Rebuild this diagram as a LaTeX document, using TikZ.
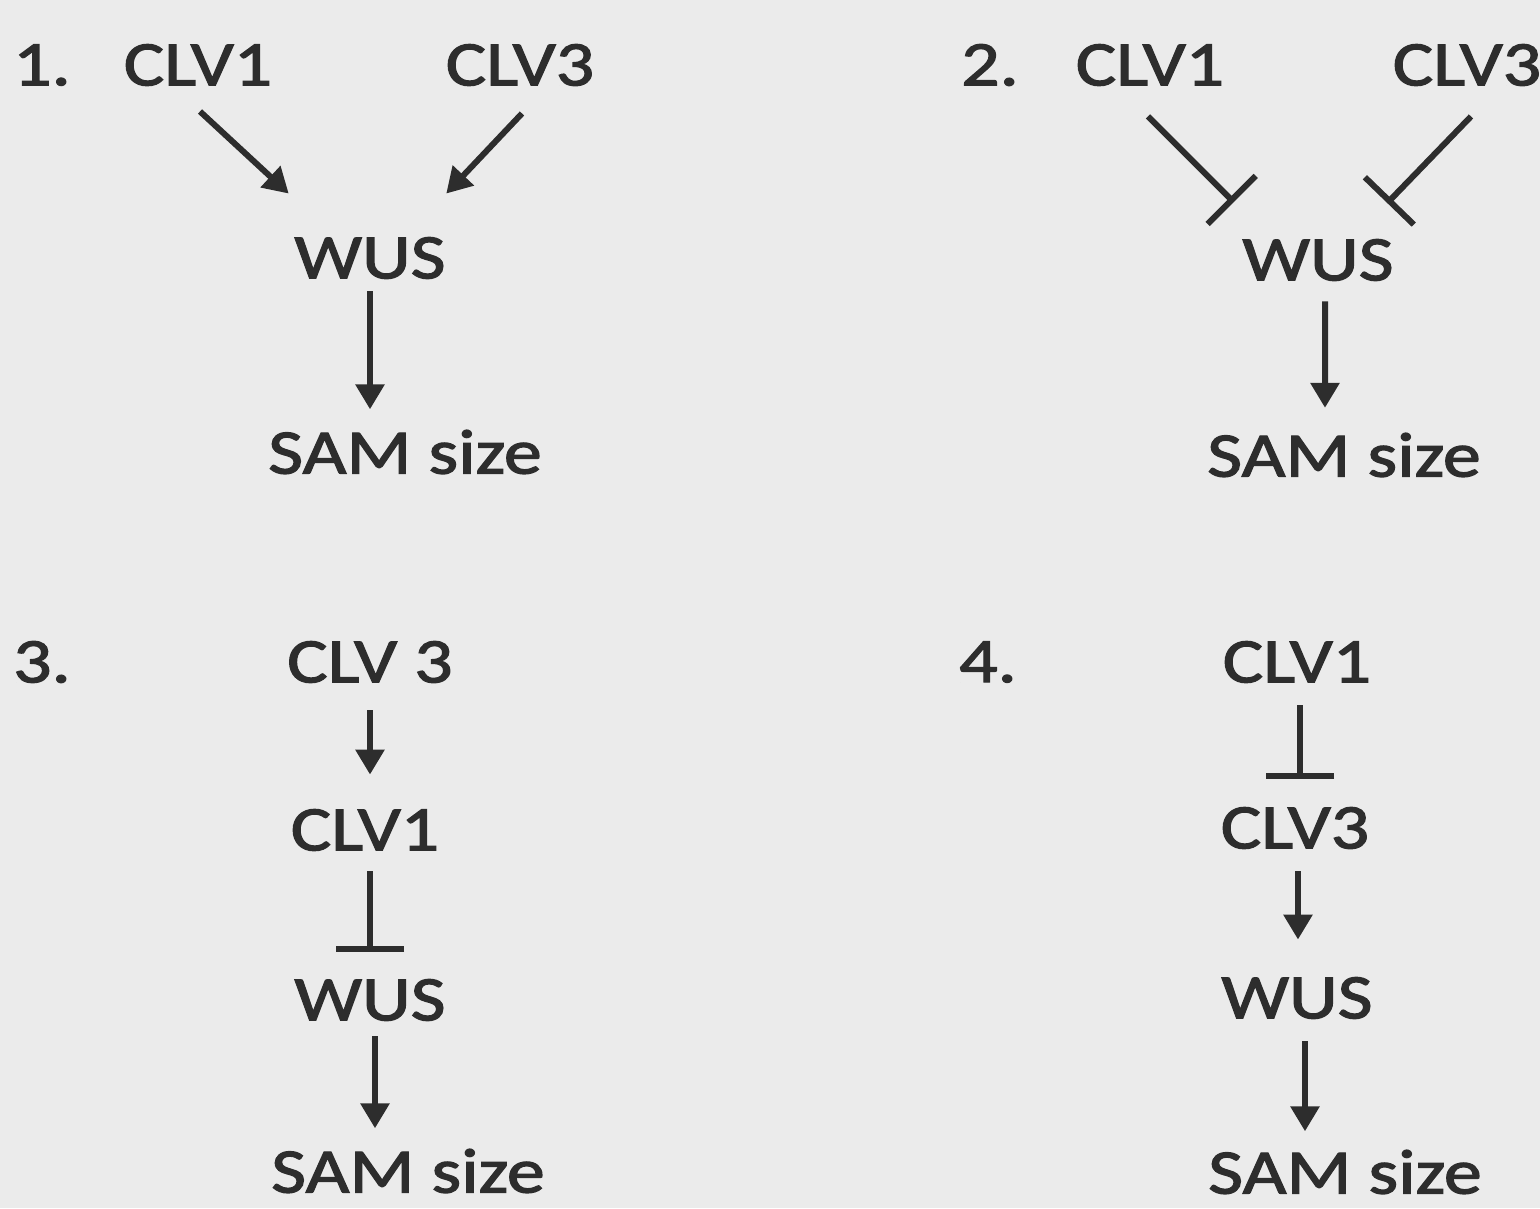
\documentclass[tikz,border=0pt]{standalone}
\usepackage{fontspec}
\setmainfont{Carlito}[FakeStretch=1.2,FakeBold=2]
\usetikzlibrary{arrows.meta,calc}
\definecolor{bggray}{RGB}{235,235,235}
\definecolor{ink}{RGB}{45,45,45}
\tikzset{
  gene/.style={inner sep=0pt, text=ink, font=\fontsize{18}{20}\selectfont},
  act/.style={draw=ink, line width=0.06cm, -{Triangle[length=0.25cm,width=0.28cm]}},
  inh/.style={draw=ink, line width=0.06cm, -{Bar[width=0.68cm]}},
}
\begin{document}
\begin{tikzpicture}
  \fill[bggray] (0,0) rectangle (15.4,-12.08);
  \useasboundingbox (0,0) rectangle (15.4,-12.08);
  % model 1
  \node[gene] (num_1) at (0.42,-0.65) {1.};
  \node[gene] (clv1_1) at (1.98,-0.65) {CLV1};
  \node[gene] (clv3_1) at (5.20,-0.65) {CLV3};
  \node[gene] (wus_1) at (3.70,-2.58) {WUS};
  \node[gene] (sam_1) at (4.05,-4.52) {SAM size};
  \draw[act] ($(clv1_1.south)+(0.02,-0.25)$) -- ($(wus_1.north west)+(-0.05,0.43)$);
  \draw[act] ($(clv3_1.south)+(0.02,-0.27)$) -- ($(wus_1.north east)+(0,0.43)$);
  \draw[act, shorten <=0.12cm, shorten >=0.2cm] (wus_1.south) -- (wus_1.south |- sam_1.north);
  % model 2
  \node[gene] (num_2) at (9.90,-0.65) {2.};
  \node[gene] (clv1_2) at (11.50,-0.65) {CLV1};
  \node[gene] (clv3_2) at (14.67,-0.65) {CLV3};
  \node[gene] (wus_2) at (13.18,-2.60) {WUS};
  \node[gene] (sam_2) at (13.44,-4.55) {SAM size};
  \draw[inh] ($(clv1_2.south)+(-0.02,-0.3)$) -- ($(wus_2.north west)+(-0.08,0.365)$);
  \draw[inh] ($(clv3_2.south)+(0.04,-0.3)$) -- ($(wus_2.north east)+(-0.07,0.355)$);
  \draw[act] ($(wus_2.south)+(0.07,-0.2)$) -- ($(sam_2.north)+(-0.19,0.245)$);
  % model 3
  \node[gene] (num_3) at (0.42,-6.62) {3.};
  \node[gene] (clv3_3) at (3.70,-6.62) {CLV 3};
  \node[gene] (clv1_3) at (3.65,-8.30) {CLV1};
  \node[gene] (wus_3) at (3.70,-10.00) {WUS};
  \node[gene] (sam_3) at (4.08,-11.71) {SAM size};
  \draw[act, shorten <=0.27cm, shorten >=0.34cm] (clv3_3.south) -- (clv3_3.south |- clv1_3.north);
  \draw[inh, shorten <=0.2cm, shorten >=0.27cm] (wus_3.north |- clv1_3.south) -- (wus_3.north);
  \draw[act] ($(wus_3.south)+(0.05,-0.15)$) -- ($(wus_3.south |- sam_3.north)+(0.05,0.2)$);
  % model 4
  \node[gene] (num_4) at (9.88,-6.62) {4.};
  \node[gene] (clv1_4) at (12.97,-6.62) {CLV1};
  \node[gene] (clv3_4) at (12.95,-8.28) {CLV3};
  \node[gene] (wus_4) at (12.97,-9.98) {WUS};
  \node[gene] (sam_4) at (13.45,-11.72) {SAM size};
  \draw[inh] ($(clv1_4.south)+(0.03,-0.22)$) -- ($(clv1_4.south |- clv3_4.north)+(0.03,0.28)$);
  \draw[act] ($(clv3_4.south)+(0.03,-0.22)$) -- ($(clv3_4.south |- wus_4.north)+(0.03,0.37)$);
  \draw[act] ($(wus_4.south)+(0.08,-0.22)$) -- ($(wus_4.south |- sam_4.north)+(0.08,0.18)$);
\end{tikzpicture}
\end{document}
